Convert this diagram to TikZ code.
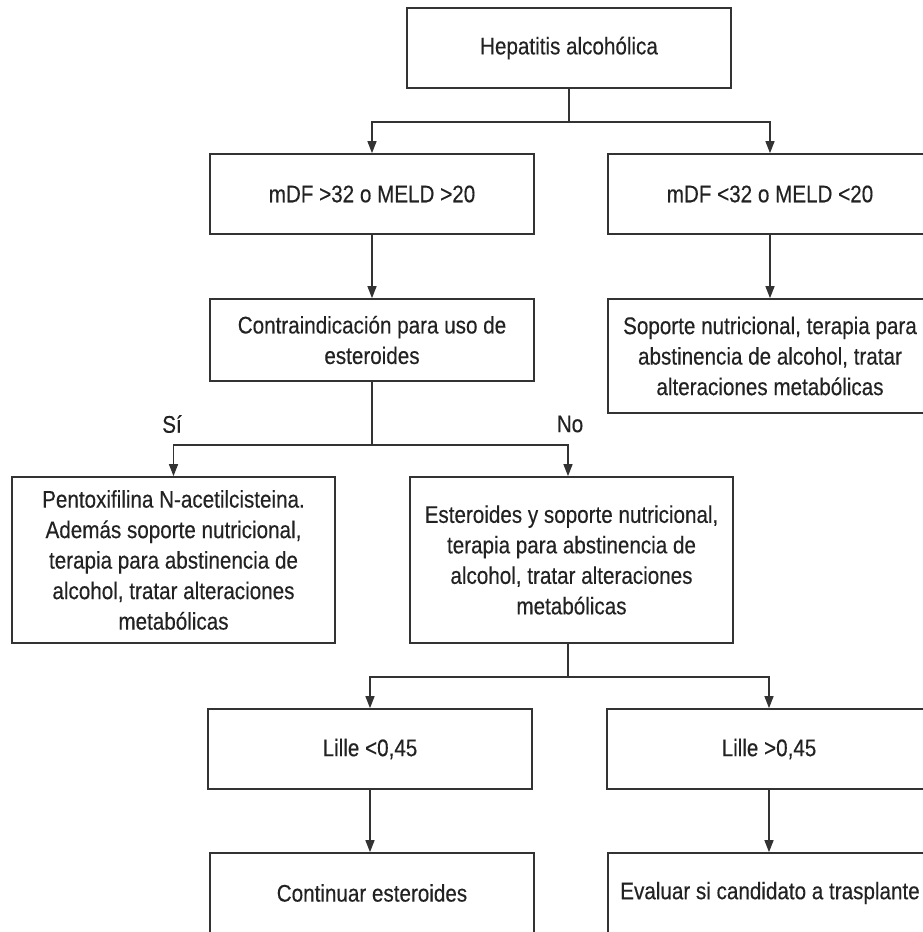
\documentclass[tikz,border=0pt]{standalone}
\usepackage{fontspec}
\setmainfont[FakeStretch=0.86,FakeBold=0.3]{Liberation Sans}
\usetikzlibrary{arrows.meta}
\definecolor{ln}{HTML}{333333}
\definecolor{tx}{HTML}{222222}
\begin{document}
\begin{tikzpicture}[x=1pt,y=-1pt,
  box/.style={draw=ln,line width=1.7pt,rectangle,minimum width=324pt,inner sep=2pt,align=center,text=tx,font=\fontsize{24}{30.5}\selectfont},
  arr/.style={draw=ln,line width=1.3pt,-{Triangle[length=12pt,width=9pt]}},
  ln/.style={draw=ln,line width=1.3pt},
  lab/.style={text=tx,font=\fontsize{24}{30}\selectfont}]
\useasboundingbox[fill=white] (0,0) rectangle (922,932);
\node[box,minimum height=80pt] (top) at (569,48) {Hepatitis alcohólica};
\node[box,minimum height=80pt] (l1) at (372,194) {mDF >32 o MELD >20};
\node[box,minimum height=80pt] (r1) at (770,194) {mDF <32 o MELD <20};
\node[box,minimum height=82pt] (l2) at (372,340) {Contraindicación para uso de\\esteroides};
\node[box,minimum height=114pt] (r2) at (770,356) {Soporte nutricional, terapia para\\abstinencia de alcohol, tratar\\alteraciones metabólicas};
\node[box,minimum width=323pt,minimum height=166pt] (p) at (173.5,560) {Pentoxifilina N-acetilcisteina.\\Además soporte nutricional,\\terapia para abstinencia de\\alcohol, tratar alteraciones\\metabólicas};
\node[box,minimum width=323pt,minimum height=166pt] (e) at (571.5,560) {Esteroides y soporte nutricional,\\terapia para abstinencia de\\alcohol, tratar alteraciones\\metabólicas};
\node[box,minimum height=80pt] (lo) at (370,749) {Lille <0,45};
\node[box,minimum height=80pt] (hi) at (769,749) {Lille >0,45};
\node[box,minimum height=80pt] (co) at (372,893) {Continuar esteroides};
\node[box,minimum height=80pt] (ev) at (770,893) {Evaluar si candidato a trasplante};
\coordinate (j1) at (569,122);
\coordinate (j2) at (372,445);
\coordinate (j3) at (568,677);
\draw[ln] (top.south) -- (j1);
\draw[arr] (j1) -| (l1.north);
\draw[arr] (j1) -| (r1.north);
\draw[arr] (l1) -- (l2);
\draw[arr] (r1) -- (r2);
\draw[ln] (l2.south) -- (j2);
\draw[arr] (j2) -| (p.north);
\draw[arr] (j2) -| (e.north -| j3);
\draw[ln] (e.south -| j3) -- (j3);
\draw[arr] (j3) -| (lo.north);
\draw[arr] (j3) -| (hi.north);
\draw[arr] (lo.south) -- (lo.south |- co.north);
\draw[arr] (hi.south) -- (hi.south |- ev.north);
\node[lab] (si) at (172,424) {Sí};
\node[lab] (no) at (570,424) {No};
\end{tikzpicture}
\end{document}
